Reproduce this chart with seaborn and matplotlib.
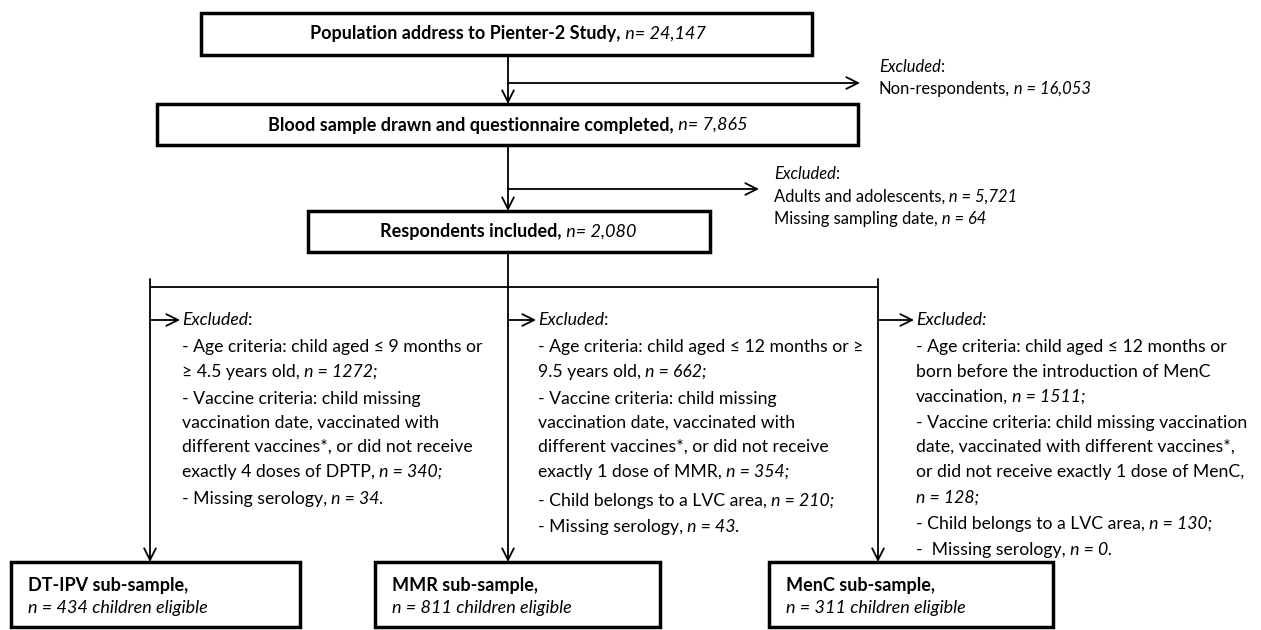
import matplotlib
matplotlib.use("Agg")
import matplotlib.pyplot as plt
import seaborn as sns
from matplotlib.patches import Rectangle

sns.set_theme(style="white")
plt.rcParams['font.family'] = ['Lato', 'DejaVu Sans']

# ---------------- data ----------------
population_n = "24,147"
nonrespondents_n = "16,053"
blood_sample_n = "7,865"
adults_n = "5,721"
missing_date_n = "64"
included_n = "2,080"

subsample_names = ["DT-IPV", "MMR", "MenC"]
eligible_n = [434, 811, 311]
age_excluded_n = [1272, 662, 1511]
vaccine_excluded_n = [340, 354, 128]
lvc_excluded_n = [None, 210, 130]
serology_excluded_n = [34, 43, 0]

N = dict(fontstyle='normal', fontweight='normal')
I = dict(fontstyle='italic', fontweight='normal')
B = dict(fontstyle='normal', fontweight='bold')

col_lines = [
    [
        [("- Age criteria: child aged \u2264 9 months or", N)],
        [("\u2265 4.5 years old,", N), (f" n = {age_excluded_n[0]};", I)],
        [("- Vaccine criteria: child missing", N)],
        [("vaccination date, vaccinated with", N)],
        [("different vaccines*, or did not receive", N)],
        [("exactly 4 doses of DPTP,", N), (f" n = {vaccine_excluded_n[0]};", I)],
        [("- Missing serology,", N), (f" n = {serology_excluded_n[0]}.", I)],
    ],
    [
        [("- Age criteria: child aged \u2264 12 months or \u2265", N)],
        [("9.5 years old,", N), (f" n = {age_excluded_n[1]};", I)],
        [("- Vaccine criteria: child missing", N)],
        [("vaccination date, vaccinated with", N)],
        [("different vaccines*, or did not receive", N)],
        [("exactly 1 dose of MMR,", N), (f" n = {vaccine_excluded_n[1]};", I)],
        [("- Child belongs to a LVC area,", N), (f" n = {lvc_excluded_n[1]};", I)],
        [("- Missing serology,", N), (f" n = {serology_excluded_n[1]}.", I)],
    ],
    [
        [("- Age criteria: child aged \u2264 12 months or", N)],
        [("born before the introduction of MenC", N)],
        [("vaccination,", N), (f" n = {age_excluded_n[2]};", I)],
        [("- Vaccine criteria: child missing vaccination", N)],
        [("date, vaccinated with different vaccines*,", N)],
        [("or did not receive exactly 1 dose of MenC,", N)],
        [(f"n = {vaccine_excluded_n[2]};", I)],
        [("- Child belongs to a LVC area,", N), (f" n = {lvc_excluded_n[2]};", I)],
        [("-  Missing serology,", N), (f" n = {serology_excluded_n[2]}.", I)],
    ],
]
col_line_y = [
    [347, 372, 399, 423, 447, 472, 499],
    [347, 372, 399, 423, 447, 472, 501, 527],
    [347, 372, 397, 423, 447, 472, 498, 524, 550],
]

# ---------------- figure ----------------
W, H = 1261, 630
fig = plt.figure(figsize=(W / 100, H / 100), dpi=100)
ax = fig.add_axes([0, 0, 1, 1])
ax.set_xlim(0, W)
ax.set_ylim(H, 0)
ax.axis('off')
renderer = fig.canvas.get_renderer()

FS_COL = 12.7
FS_SIDE = 11.9
FS_BOX = 13.0
LW_BOX = 2.5
LW = 1.3


def rich(x, y, segs, size=FS_COL, ha='left'):
    texts = []
    cur = x
    for s, st in segs:
        t = ax.text(cur, y, s, fontsize=size, va='center', ha='left', color='black', **st)
        bb = t.get_window_extent(renderer=renderer)
        cur += bb.width
        texts.append(t)
    if ha == 'center':
        total = cur - x
        for t in texts:
            px, py = t.get_position()
            t.set_x(px - total / 2)
    return texts


def box(x0, y0, x1, y1):
    ax.add_patch(Rectangle((x0, y0), x1 - x0, y1 - y0, fill=True, facecolor='white',
                           edgecolor='black', lw=LW_BOX, zorder=3, joinstyle='miter'))


def line(x0, y0, x1, y1):
    ax.plot([x0, x1], [y0, y1], color='black', lw=LW, solid_capstyle='butt', zorder=2)


def arrow(x0, y0, x1, y1):
    ax.annotate('', xy=(x1, y1), xytext=(x0, y0),
                arrowprops=dict(arrowstyle='->,head_length=0.7,head_width=0.35',
                                lw=LW, color='black', shrinkA=0, shrinkB=0), zorder=4)


CX = 508

# Box 1
box(201, 13, 812, 55)
rich(CX, 34, [("Population address to Pienter-2 Study,", B), (f" n= {population_n}", I)],
     size=FS_BOX, ha='center')
arrow(CX, 55, CX, 104)
arrow(CX, 83, 860, 83)
rich(879, 67, [("Excluded", I), (":", N)], size=FS_SIDE)
rich(879, 89, [("Non-respondents,", N), (f" n = {nonrespondents_n}", I)], size=FS_SIDE)

# Box 2
box(157, 104, 858, 145)
rich(CX, 125, [("Blood sample drawn and questionnaire completed,", B), (f" n= {blood_sample_n}", I)],
     size=FS_BOX, ha='center')
arrow(CX, 145, CX, 211)
arrow(CX, 189, 759, 189)
rich(774, 174, [("Excluded", I), (":", N)], size=FS_SIDE)
rich(774, 197, [("Adults and adolescents,", N), (f" n = {adults_n}", I)], size=FS_SIDE)
rich(774, 219, [("Missing sampling date,", N), (f" n = {missing_date_n}", I)], size=FS_SIDE)

# Box 3
box(308, 211, 710, 252)
rich(CX, 232, [("Respondents included,", B), (f" n= {included_n}", I)], size=FS_BOX, ha='center')

# distribution lines
col_x = [150, CX, 878]
line(col_x[0], 287, col_x[2], 287)
line(CX, 252, CX, 287)
text_x = [182, 538, 916]
excl_styles = [[("Excluded", I), (":", N)], [("Excluded", I), (":", N)], [("Excluded:", I)]]
for k in range(3):
    top = 279 if k != 1 else 287
    arrow(col_x[k], top, col_x[k], 562)
    arrow(col_x[k], 320, text_x[k] - 2, 320)
    rich(text_x[k], 320, excl_styles[k])
    for segs, yy in zip(col_lines[k], col_line_y[k]):
        rich(text_x[k], yy, segs)

# bottom boxes
bottom_boxes = [(11, 562, 300, 627), (375, 562, 660, 627), (769, 562, 1053, 627)]
for k, (x0, y0, x1, y1) in enumerate(bottom_boxes):
    box(x0, y0, x1, y1)
    rich(x0 + 17, 585, [(f"{subsample_names[k]} sub-sample,", B)], size=FS_BOX)
    rich(x0 + 17, 608, [(f"n = {eligible_n[k]} children eligible", I)], size=FS_BOX)

fig.savefig("out.png", dpi=100, facecolor='white')
